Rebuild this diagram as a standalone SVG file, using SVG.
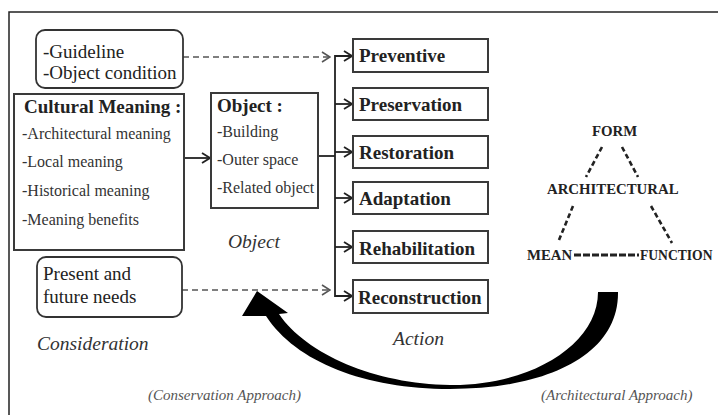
<svg xmlns="http://www.w3.org/2000/svg" width="718" height="415" viewBox="0 0 718 415">
  <defs>
    <style>
      .frame { fill: none; stroke: #222; stroke-width: 1.5; }
      .box { fill: #fff; stroke: #3a3a3a; stroke-width: 2; }
      .rbox { fill: #fff; stroke: #333; stroke-width: 1.8; }
      .link { fill: none; stroke: #222; stroke-width: 1.8; }
      .dash { fill: none; stroke: #555; stroke-width: 1.6; stroke-dasharray: 6 4; }
      .tri { fill: none; stroke: #222; stroke-width: 2.6; stroke-dasharray: 5 3; }
      .base { fill: none; stroke: #222; stroke-width: 3; stroke-dasharray: 7 2; }
      .serif { font-family: "Liberation Serif", "Times New Roman", serif; fill: #222; }
      .b19 { font-size: 19px; font-weight: bold; }
      .r19 { font-size: 19px; }
      .r16 { font-size: 16px; fill: #333; }
      .it { font-size: 19.5px; font-style: italic; fill: #333; }
      .cap { font-size: 15px; font-style: italic; fill: #555; }
      .tb { font-size: 14.8px; font-weight: bold; }
      .tb-edge { font-size: 13.6px; font-weight: bold; }
    </style>
    <marker id="chev" viewBox="0 0 10 12" refX="9" refY="6" markerWidth="10" markerHeight="12" markerUnits="userSpaceOnUse" orient="auto">
      <path d="M1,1 L9,6 L1,11" fill="none" stroke="#222" stroke-width="1.8"/>
    </marker>
    <marker id="chevg" viewBox="0 0 10 12" refX="9" refY="6" markerWidth="10" markerHeight="12" markerUnits="userSpaceOnUse" orient="auto">
      <path d="M1,1 L9,6 L1,11" fill="none" stroke="#555" stroke-width="1.6"/>
    </marker>
  </defs>

  <rect width="718" height="415" fill="#fff"/>
  <!-- open frame: top and left edges only -->
  <path class="frame" d="M9,415 V12 H718"/>

  <!-- connectors -->
  <g id="connectors">
    <path class="dash" d="M183,57 H330" marker-end="url(#chevg)"/>
    <path class="dash" d="M182,290 H330" marker-end="url(#chevg)"/>
    <path class="link" d="M184,158 H210" marker-end="url(#chev)"/>
    <path class="link" d="M318,156 H335"/>
    <path class="link" d="M352,56 H335 V296 H352"/>
    <path class="link" d="M335,56 H352" marker-end="url(#chev)"/>
    <path class="link" d="M335,104 H352" marker-end="url(#chev)"/>
    <path class="link" d="M335,152 H352" marker-end="url(#chev)"/>
    <path class="link" d="M335,198 H352" marker-end="url(#chev)"/>
    <path class="link" d="M335,247 H352" marker-end="url(#chev)"/>
    <path class="link" d="M335,296 H352" marker-end="url(#chev)"/>
    <!-- sweeping return arrow -->
    <path d="M257,291 L288,313 L279,314 C306,354 375,384 450,385 C530,386 598,345 598,292 L618,292 C619,356 545,389 450,389 C365,389 296,362 266,316 L242,316 Z" fill="#000"/>
  </g>

  <g id="guideline">
    <rect class="rbox" x="36" y="30" width="147" height="58" rx="9"/>
    <text class="serif r19" x="43" y="58">-Guideline</text>
    <text class="serif r19" x="43" y="79">-Object condition</text>
  </g>

  <g id="cultural-meaning">
    <rect class="box" x="14" y="94" width="170" height="156"/>
    <text class="serif b19" x="24" y="113">Cultural Meaning :</text>
    <text class="serif r16" x="22" y="139">-Architectural meaning</text>
    <text class="serif r16" x="22" y="167">-Local meaning</text>
    <text class="serif r16" x="22" y="196">-Historical meaning</text>
    <text class="serif r16" x="22" y="225">-Meaning benefits</text>
  </g>

  <g id="object">
    <rect class="box" x="211" y="93" width="107" height="115"/>
    <text class="serif b19" x="217" y="112">Object :</text>
    <text class="serif r16" x="217" y="137">-Building</text>
    <text class="serif r16" x="217" y="165">-Outer space</text>
    <text class="serif r16" x="217" y="193">-Related object</text>
    <text class="serif it" x="228" y="248">Object</text>
  </g>

  <g id="needs">
    <rect class="rbox" x="37" y="257" width="145" height="60" rx="9"/>
    <text class="serif r19" x="43" y="280">Present and</text>
    <text class="serif r19" x="43" y="303">future needs</text>
  </g>

  <g id="actions">
    <g id="preventive"><rect class="box" x="353" y="39" width="135" height="33"/><text class="serif b19" x="359" y="62">Preventive</text></g>
    <g id="preservation"><rect class="box" x="353" y="88" width="135" height="32"/><text class="serif b19" x="359" y="111">Preservation</text></g>
    <g id="restoration"><rect class="box" x="353" y="136" width="135" height="32"/><text class="serif b19" x="359" y="159">Restoration</text></g>
    <g id="adaptation"><rect class="box" x="353" y="182" width="135" height="32"/><text class="serif b19" x="359" y="205">Adaptation</text></g>
    <g id="rehabilitation"><rect class="box" x="353" y="231" width="135" height="32"/><text class="serif b19" x="359" y="255">Rehabilitation</text></g>
    <g id="reconstruction"><rect class="box" x="353" y="280" width="135" height="33"/><text class="serif b19" x="358" y="304">Reconstruction</text></g>
    <text class="serif it" x="393" y="345">Action</text>
  </g>

  <g id="labels">
    <text class="serif it" x="37" y="350">Consideration</text>
    <text class="serif cap" x="148" y="400">(Conservation Approach)</text>
    <text class="serif cap" x="541" y="400">(Architectural Approach)</text>
  </g>

  <!-- form / function / mean triad -->
  <g id="triad">
    <path class="tri" d="M602,147 L586,177 M622,147 L638,177 M573,206 L559,240 M651,206 L672,243"/>
    <path class="base" d="M574,255 H639"/>
    <text class="serif tb" x="592" y="136">FORM</text>
    <text class="serif tb" x="547" y="194">ARCHITECTURAL</text>
    <text class="serif tb" x="527" y="260">MEAN</text>
    <text class="serif tb-edge" x="640" y="260">FUNCTION</text>
  </g>
</svg>
